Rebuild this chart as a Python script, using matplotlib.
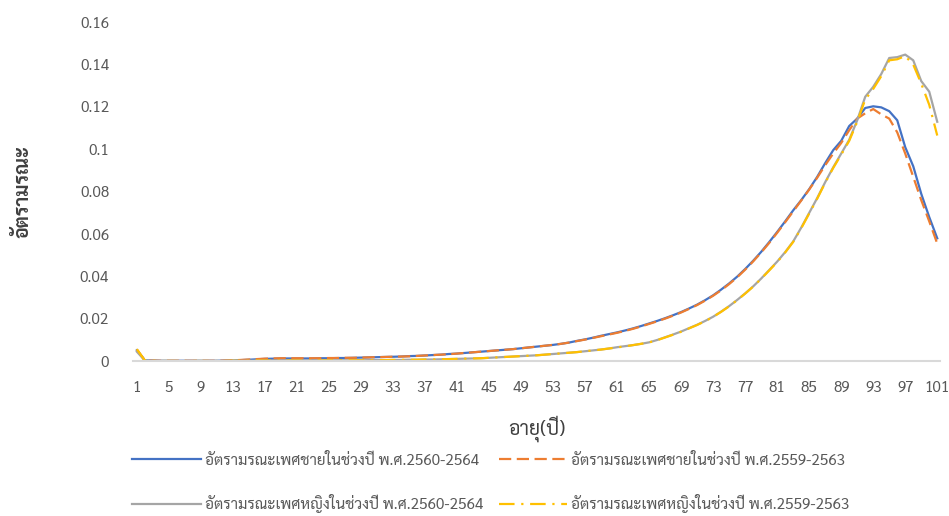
import matplotlib
matplotlib.use('Agg')
import matplotlib.pyplot as plt
import numpy as np

plt.rcParams['font.family'] = ['Sarabun', 'DejaVu Sans']

ages = list(range(1, 102))

# อัตรามรณะเพศชาย 2560-2564
male_60_64 = [
    0.0052, 0.0004, 0.0003, 0.0002, 0.0002, 0.0002, 0.0002, 0.0002, 0.0002, 0.0002,
    0.0002, 0.0003, 0.0003, 0.0005, 0.0007, 0.0009, 0.0011, 0.0012, 0.0013, 0.0013,
    0.0013, 0.0013, 0.0013, 0.0014, 0.0014, 0.0015, 0.0015, 0.0016, 0.0017, 0.0018,
    0.0019, 0.0020, 0.0021, 0.0022, 0.0024, 0.0025, 0.0027, 0.0029, 0.0031, 0.0034,
    0.0036, 0.0039, 0.0042, 0.0045, 0.0048, 0.0051, 0.0054, 0.0057, 0.0061, 0.0065,
    0.0069, 0.0073, 0.0077, 0.0082, 0.0088, 0.0096, 0.0103, 0.0111, 0.0120, 0.0128,
    0.0136, 0.0145, 0.0155, 0.0166, 0.0178, 0.0190, 0.0203, 0.0217, 0.0232, 0.0249,
    0.0267, 0.0288, 0.0311, 0.0338, 0.0367, 0.0399, 0.0435, 0.0474, 0.0516, 0.0562,
    0.0610, 0.0660, 0.0712, 0.0760, 0.0812, 0.0870, 0.0935, 0.0996, 0.1040, 0.1110,
    0.1145, 0.1195, 0.1203, 0.1198, 0.1180, 0.1137, 0.1010, 0.0920, 0.0790, 0.0680,
    0.0580,
]

# อัตรามรณะเพศชาย 2559-2563
male_59_63 = [
    0.0055, 0.0004, 0.0003, 0.0002, 0.0002, 0.0002, 0.0002, 0.0002, 0.0002, 0.0002,
    0.0002, 0.0003, 0.0004, 0.0006, 0.0008, 0.0010, 0.0012, 0.0013, 0.0014, 0.0014,
    0.0014, 0.0014, 0.0014, 0.0014, 0.0015, 0.0015, 0.0016, 0.0016, 0.0017, 0.0018,
    0.0019, 0.0020, 0.0021, 0.0022, 0.0023, 0.0025, 0.0027, 0.0029, 0.0031, 0.0033,
    0.0036, 0.0039, 0.0042, 0.0045, 0.0048, 0.0051, 0.0054, 0.0057, 0.0061, 0.0065,
    0.0069, 0.0073, 0.0077, 0.0082, 0.0088, 0.0095, 0.0102, 0.0110, 0.0118, 0.0126,
    0.0134, 0.0143, 0.0153, 0.0164, 0.0176, 0.0188, 0.0201, 0.0215, 0.0230, 0.0247,
    0.0265, 0.0286, 0.0309, 0.0335, 0.0364, 0.0396, 0.0432, 0.0471, 0.0513, 0.0558,
    0.0606, 0.0656, 0.0707, 0.0758, 0.0810, 0.0866, 0.0925, 0.0980, 0.1030, 0.1090,
    0.1145, 0.1170, 0.1190, 0.1165, 0.1145, 0.1080, 0.0980, 0.0870, 0.0760, 0.0660,
    0.0555,
]

# อัตรามรณะเพศหญิง 2560-2564
female_60_64 = [
    0.0045, 0.0003, 0.0002, 0.0001, 0.0001, 0.0001, 0.0001, 0.0001, 0.0001, 0.0001,
    0.0001, 0.0001, 0.0002, 0.0002, 0.0002, 0.0003, 0.0003, 0.0003, 0.0003, 0.0003,
    0.0003, 0.0003, 0.0003, 0.0003, 0.0003, 0.0004, 0.0004, 0.0004, 0.0004, 0.0005,
    0.0005, 0.0005, 0.0006, 0.0006, 0.0007, 0.0007, 0.0008, 0.0008, 0.0009, 0.0010,
    0.0011, 0.0012, 0.0013, 0.0014, 0.0016, 0.0018, 0.0020, 0.0022, 0.0024, 0.0026,
    0.0028, 0.0031, 0.0034, 0.0037, 0.0040, 0.0043, 0.0047, 0.0051, 0.0055, 0.0060,
    0.0066, 0.0071, 0.0076, 0.0082, 0.0089, 0.0100, 0.0113, 0.0126, 0.0140, 0.0156,
    0.0172, 0.0190, 0.0210, 0.0234, 0.0260, 0.0289, 0.0320, 0.0353, 0.0390, 0.0430,
    0.0470, 0.0515, 0.0565, 0.0630, 0.0700, 0.0770, 0.0845, 0.0915, 0.0980, 0.1045,
    0.1137, 0.1248, 0.1295, 0.1355, 0.1431, 0.1435, 0.1447, 0.1420, 0.1322, 0.1272,
    0.1130,
]

# อัตรามรณะเพศหญิง 2559-2563
female_59_63 = [
    0.0057, 0.0003, 0.0002, 0.0001, 0.0001, 0.0001, 0.0001, 0.0001, 0.0001, 0.0001,
    0.0001, 0.0001, 0.0002, 0.0002, 0.0002, 0.0003, 0.0003, 0.0003, 0.0003, 0.0003,
    0.0003, 0.0003, 0.0003, 0.0003, 0.0003, 0.0004, 0.0004, 0.0004, 0.0004, 0.0005,
    0.0005, 0.0005, 0.0006, 0.0006, 0.0007, 0.0007, 0.0008, 0.0008, 0.0009, 0.0010,
    0.0011, 0.0012, 0.0013, 0.0014, 0.0016, 0.0018, 0.0020, 0.0022, 0.0024, 0.0026,
    0.0028, 0.0031, 0.0034, 0.0037, 0.0040, 0.0043, 0.0047, 0.0051, 0.0055, 0.0060,
    0.0065, 0.0070, 0.0076, 0.0082, 0.0089, 0.0099, 0.0112, 0.0125, 0.0139, 0.0155,
    0.0171, 0.0189, 0.0209, 0.0233, 0.0259, 0.0288, 0.0319, 0.0352, 0.0389, 0.0428,
    0.0468, 0.0513, 0.0563, 0.0627, 0.0697, 0.0767, 0.0842, 0.0912, 0.0975, 0.1040,
    0.1130, 0.1235, 0.1285, 0.1345, 0.1420, 0.1425, 0.1440, 0.1400, 0.1310, 0.1210,
    0.1065,
]

labels = [
    'อัตรามรณะเพศชายในช่วงปี พ.ศ.2560-2564',
    'อัตรามรณะเพศชายในช่วงปี พ.ศ.2559-2563',
    'อัตรามรณะเพศหญิงในช่วงปี พ.ศ.2560-2564',
    'อัตรามรณะเพศหญิงในช่วงปี พ.ศ.2559-2563',
]

fig = plt.figure(figsize=(9.49, 5.16), dpi=100)
ax = fig.add_axes([0.140, 0.300, 0.851, 0.657])

lw = 1.6
l1, = ax.plot(ages, male_60_64, color='#4472C4', lw=lw)
l2, = ax.plot(ages, male_59_63, color='#ED7D31', lw=lw, dashes=(5.5, 2.5))
l3, = ax.plot(ages, female_60_64, color='#A5A5A5', lw=lw)
l4, = ax.plot(ages, female_59_63, color='#FFC000', lw=lw, dashes=(7, 3, 1, 3))

ax.set_xlim(0.5, 101.4)
ax.set_ylim(0, 0.16)
ax.set_xticks(ages[::4])
ax.set_yticks(np.arange(0, 0.161, 0.02))
ax.set_yticklabels(['0', '0.02', '0.04', '0.06', '0.08', '0.1', '0.12', '0.14', '0.16'])

for s in ['top', 'right', 'left']:
    ax.spines[s].set_visible(False)
ax.spines['bottom'].set_color('#D9D9D9')
ax.spines['bottom'].set_linewidth(1.5)
ax.tick_params(length=0, labelsize=11, colors='#595959')
ax.tick_params(axis='y', pad=17)
ax.tick_params(axis='x', pad=14)

ax.set_xlabel('อายุ(ปี)', fontsize=14, color='#404040', labelpad=15)
ax.set_ylabel('อัตรามรณะ', fontsize=14, fontweight='bold', color='#404040', labelpad=34)

fig.legend([l1, l3, l2, l4], [labels[0], labels[2], labels[1], labels[3]],
           ncol=2, loc='upper left', bbox_to_anchor=(0.125, 0.150),
           frameon=False, fontsize=11, labelcolor='#595959',
           handlelength=4.5, handletextpad=0.25, columnspacing=1.0,
           labelspacing=1.75)

fig.savefig('out.png', dpi=100)
